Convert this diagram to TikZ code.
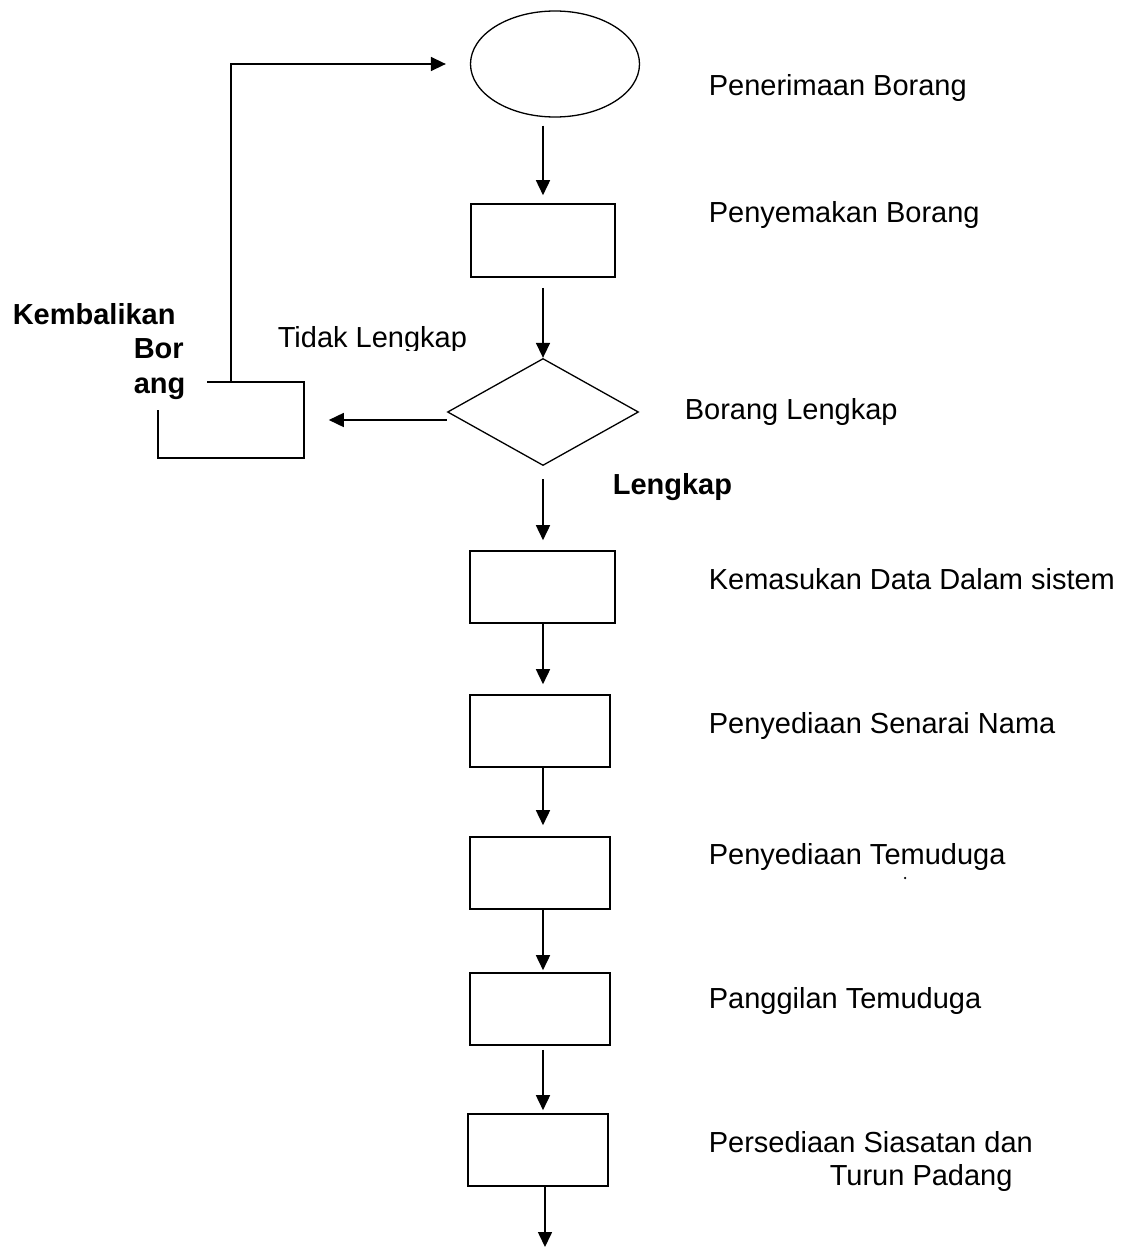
\documentclass[tikz,border=0pt]{standalone}
\usepackage{fontspec}
\setmainfont{Liberation Sans}
\usetikzlibrary{shapes.geometric,arrows.meta}
\begin{document}
\begin{tikzpicture}[x=1pt,y=-1pt,
  line width=1.6pt,
  arr/.style={-{Triangle[length=15pt,width=14pt]}},
  procbox/.style={draw,rectangle,minimum width=#1,minimum height=72pt,inner sep=0pt},
  lbl/.style={anchor=base west,inner sep=0pt,font=\fontsize{29}{34}\selectfont},
  blbl/.style={anchor=base west,inner sep=0pt,font=\fontsize{29}{34}\selectfont\bfseries}]
\useasboundingbox (0,0) rectangle (1123,1247);
% shapes
\node[draw,ellipse,minimum width=169pt,minimum height=106pt,inner sep=0pt,line width=1.3pt] (e) at (555,64) {};
\node[procbox=144pt,minimum height=73pt] (b1) at (543,240.5) {};
\node[draw,diamond,minimum width=191pt,minimum height=107pt,inner sep=0pt,line width=1.3pt] (d) at (543,412) {};
\node[rectangle,minimum width=144pt,minimum height=74pt,inner sep=0pt] (kb) at (231,420) {};
\node[procbox=145pt] (b2) at (542.5,587) {};
\node[procbox=140pt] (b3) at (540,731) {};
\node[procbox=140pt] (b4) at (540,873) {};
\node[procbox=140pt] (b5) at (540,1009) {};
\node[procbox=140pt] (b6) at (538,1150) {};
\coordinate (ax) at (543,0);
\coordinate (endpt) at (545,1247);
% open box
\draw ([xshift=49pt]kb.north west) -- (kb.north east) -- (kb.south east) -- (kb.south west) -- ([yshift=-28pt]kb.north west);
% connectors
\draw[arr,shorten <=8pt] (e.south -| b1.north) -- ([yshift=8pt]b1.north);
\draw[arr,shorten <=10pt] (b1.south) -- (d.north);
\draw[arr,shorten <=13pt,shorten >=10pt] (d.south) -- (b2.north -| d.south);
\draw[arr,shorten >=10pt] (b2.south -| ax) -- (b3.north -| ax);
\draw[arr,shorten >=11pt] (b3.south -| ax) -- (b4.north -| ax);
\draw[arr,shorten >=2pt] (b4.south -| ax) -- (b5.north -| ax);
\draw[arr,shorten <=4pt,shorten >=3pt] (b5.south -| ax) -- (b6.north -| ax);
\draw[arr] (b6.south -| endpt) -- (endpt);
\draw[arr,shorten >=25pt] ([yshift=-8pt]d.west) -- (kb.east);
\draw[arr] (kb.north) |- ([xshift=-24pt]e.west);
% labels
\node[lbl] (t1) at (708,95) {Penerimaan Borang};
\node[lbl] (t2) at (708,222) {Penyemakan Borang};
\node[lbl] (t3) at (684,419) {Borang Lengkap};
\node[lbl] (t4) at (708,589) {Kemasukan Data Dalam sistem};
\node[lbl] (t5) at (708,733) {Penyediaan Senarai Nama};
\node[lbl] (t6) at (708,864) {Penyediaan Temuduga};
\node[circle,fill,inner sep=0pt,minimum size=2.5pt] (dot) at (905,878) {};
\node[lbl] (t7) at (708,1008) {Panggilan Temuduga};
\node[lbl] (t8) at (708,1152) {Persediaan Siasatan dan};
\node[lbl] (t9) at (829,1185) {Turun Padang};
\node[blbl] (ok) at (612,494) {Lengkap};
\node[blbl] (k1) at (12,324) {Kembalikan};
\node[blbl] (k2) at (133,358) {Bor};
\node[blbl] (k3) at (133,393) {ang};
\begin{scope}
\clip (260,300) rectangle (490,350);
\node[lbl] (tl) at (277,347) {Tidak Lengkap};
\end{scope}
\end{tikzpicture}
\end{document}
